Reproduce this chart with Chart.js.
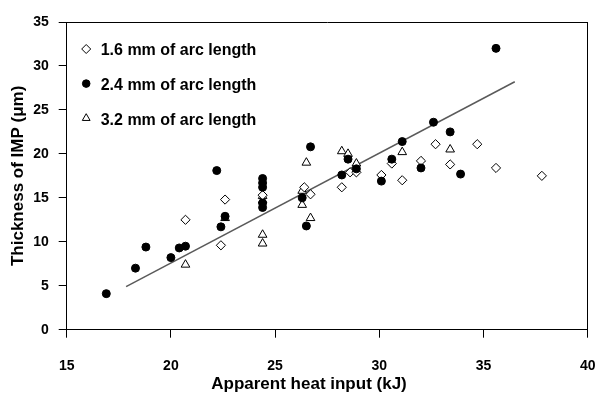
<!DOCTYPE html>
<html>
<head>
<meta charset="utf-8">
<script src="https://cdn.jsdelivr.net/npm/chart.js@4/dist/chart.umd.min.js"></script>
<style>
  html, body { margin: 0; padding: 0; background: #fff; }
  #wrap { width: 595px; height: 399px; }
</style>
</head>
<body>
<div id="wrap"><canvas id="c" width="595" height="399"></canvas></div>
<script>
// ---- Data ----
const seriesLabels = ['1.6 mm of arc length', '2.4 mm of arc length', '3.2 mm of arc length'];

const arc16X = [20.7, 22.6, 22.4, 24.4, 26.4, 26.7, 28.2, 28.6, 28.9, 30.1, 30.6, 31.1, 32.0, 32.7, 33.4, 34.7, 35.6, 37.8];
const arc16Y = [12.5, 14.8,  9.6, 15.3, 16.2, 15.4, 16.2, 17.9, 17.9, 17.6, 18.9, 17.0, 19.2, 21.1, 18.8, 21.1, 18.4, 17.5];

const arc24X = [16.9, 18.3, 18.8, 20.0, 20.4, 20.7, 22.2, 22.6, 22.4, 24.4, 24.4, 24.4, 24.4, 24.4, 26.7, 26.3, 26.5, 28.5, 28.2, 28.9, 30.6, 30.1, 31.1, 32.0, 32.6, 33.4, 33.9, 35.6];
const arc24Y = [ 4.1,  7.0,  9.4,  8.2,  9.3,  9.5, 18.1, 12.9, 11.7, 17.2, 16.7, 16.2, 14.4, 13.9, 20.8, 15.0, 11.8, 19.4, 17.6, 18.3, 19.4, 16.9, 21.4, 18.4, 23.6, 22.5, 17.7, 32.0];

const arc32X = [20.7, 22.6, 24.4, 24.4, 24.4, 24.4, 26.5, 26.3, 26.3, 26.7, 28.2, 28.5, 28.9, 31.1, 33.4];
const arc32Y = [ 7.4, 12.7, 15.2, 14.7, 10.8,  9.8, 19.0, 15.8, 14.2, 12.7, 20.3, 20.0, 18.9, 20.2, 20.5];

const trendX = [17.85, 36.5];
const trendY = [4.9, 28.2];

const xTicksMin = 15, xTicksMax = 40, xStep = 5;
const yTicksMin = 0, yTicksMax = 35, yStep = 5;
const xTitle = 'Apparent heat input (kJ)';
const yTitle = 'Thickness of IMP (μm)';

// ---- Build ----
const FONT = '"Liberation Sans", Arial, Helvetica, sans-serif';
const toPts = (xs, ys) => xs.map((x, i) => ({ x: x, y: ys[i] }));

const legendAndTitlePlugin = {
  id: 'insideLegend',
  afterDraw(chart) {
    const ctx = chart.ctx;
    const area = chart.chartArea;
    ctx.save();
    // legend inside plot area (top-left)
    const items = chart.data.datasets.filter(d => d.inLegend);
    items.sort((a, b) => a.legendIndex - b.legendIndex);
    const mx = area.left + 19.5, tx = area.left + 34;
    items.forEach((d, i) => {
      const cy = area.top + 29 + i * 34.6;
      const my = cy - 2;
      ctx.lineWidth = 1;
      ctx.strokeStyle = '#000';
      ctx.fillStyle = d.backgroundColor;
      ctx.beginPath();
      if (d.pointStyle === 'rectRot') {
        const r = 4.5;
        ctx.moveTo(mx, my - r); ctx.lineTo(mx + r, my); ctx.lineTo(mx, my + r); ctx.lineTo(mx - r, my); ctx.closePath();
      } else if (d.pointStyle === 'circle') {
        ctx.arc(mx, my, 3.8, 0, Math.PI * 2);
      } else {
        const r = 4.5;
        ctx.moveTo(mx, my - r);
        ctx.lineTo(mx + r * 0.866, my + r * 0.5);
        ctx.lineTo(mx - r * 0.866, my + r * 0.5);
        ctx.closePath();
      }
      ctx.fill(); ctx.stroke();
      ctx.fillStyle = '#000';
      ctx.font = 'bold 16px ' + FONT;
      ctx.textAlign = 'left';
      ctx.textBaseline = 'middle';
      ctx.fillText(d.label, tx, cy);
    });
    // x-axis title
    ctx.font = 'bold 17px ' + FONT;
    ctx.textAlign = 'center';
    ctx.textBaseline = 'middle';
    ctx.fillStyle = '#000';
    ctx.fillText(xTitle, 309, 384);
    ctx.restore();
  }
};

new Chart(document.getElementById('c'), {
  type: 'scatter',
  data: {
    datasets: [
      {
        label: seriesLabels[1], data: toPts(arc24X, arc24Y), order: 0,
        inLegend: true, legendIndex: 1,
        pointStyle: 'circle', pointRadius: 4, backgroundColor: '#000', borderColor: '#000', borderWidth: 1
      },
      {
        label: seriesLabels[0], data: toPts(arc16X, arc16Y), order: 1,
        inLegend: true, legendIndex: 0,
        pointStyle: 'rectRot', pointRadius: 4.6, backgroundColor: '#fff', borderColor: '#000', borderWidth: 1
      },
      {
        label: seriesLabels[2], data: toPts(arc32X, arc32Y), order: 2,
        inLegend: true, legendIndex: 2,
        pointStyle: 'triangle', pointRadius: 5, backgroundColor: '#fff', borderColor: '#000', borderWidth: 1
      },
      {
        label: 'trend', type: 'line', data: toPts(trendX, trendY), order: 3,
        inLegend: false,
        borderColor: '#5a5a5a', borderWidth: 1.5, pointRadius: 0, fill: false, tension: 0
      }
    ]
  },
  options: {
    responsive: false,
    animation: false,
    events: [],
    layout: { padding: { top: 22, right: 7.3, left: 0, bottom: 0 } },
    plugins: { legend: { display: false }, tooltip: { enabled: false }, title: { display: false } },
    scales: {
      x: {
        type: 'linear', position: 'bottom', min: xTicksMin, max: xTicksMax,
        ticks: { stepSize: xStep, color: '#000', padding: 20, maxRotation: 0,
                 font: { family: FONT, size: 14, weight: 'bold' } },
        grid: {
          drawOnChartArea: true, drawTicks: true, tickLength: 8, lineWidth: 1,
          color: c => (c.tick && c.tick.value === xTicksMax) ? '#000' : 'rgba(0,0,0,0)',
          tickColor: '#000'
        },
        border: { display: true, color: '#000', width: 1 },
        afterFit: s => { s.height = 69.3; s.paddingLeft = 0; s.paddingRight = 0; }
      },
      y: {
        type: 'linear', position: 'left', min: yTicksMin, max: yTicksMax,
        ticks: { stepSize: yStep, color: '#000', padding: 10,
                 font: { family: FONT, size: 14, weight: 'bold' } },
        grid: {
          drawOnChartArea: true, drawTicks: true, tickLength: 8, lineWidth: 1,
          color: c => (c.tick && c.tick.value === yTicksMax) ? '#000' : 'rgba(0,0,0,0)',
          tickColor: '#000'
        },
        border: { display: true, color: '#000', width: 1 },
        title: { display: true, text: yTitle, color: '#000', padding: { top: 8, bottom: 0 },
                 font: { family: FONT, size: 17, weight: 'bold' } },
        afterFit: s => { s.width = 66.7; s.paddingTop = 0; s.paddingBottom = 0; }
      }
    }
  },
  plugins: [legendAndTitlePlugin]
});
</script>
</body>
</html>
